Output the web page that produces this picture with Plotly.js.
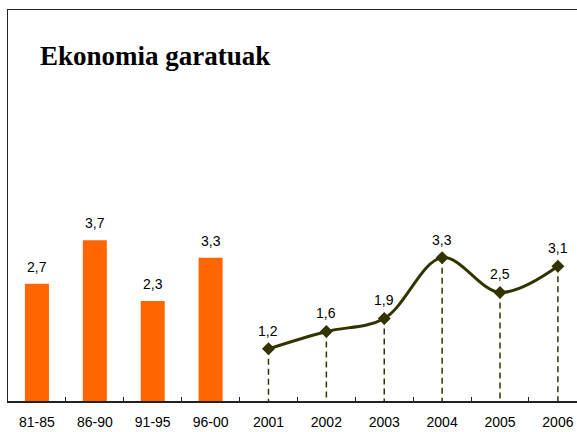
<!DOCTYPE html>
<html>
<head>
<meta charset="utf-8">
<script src="https://cdn.plot.ly/plotly-3.0.1.min.js"></script>
<style>html,body{margin:0;padding:0;background:#fff;}#chart{width:577px;height:432px;}</style>
</head>
<body>
<div id="chart"></div>
<script>
var categories = ['81-85','86-90','91-95','96-00','2001','2002','2003','2004','2005','2006'];
var barCategories = ['81-85','86-90','91-95','96-00'];
var barValues = [2.7, 3.7, 2.3, 3.3];
var lineCategories = ['2001','2002','2003','2004','2005','2006'];
var lineValues = [1.2, 1.6, 1.9, 3.3, 2.5, 3.1];
var titleText = 'Ekonomia garatuak';

function fmt(v){ return v.toFixed(1).replace('.', ','); }
function idx(c){ return categories.indexOf(c); }

var dropX = [], dropY = [];
lineCategories.forEach(function(c, i){ dropX.push(c, c, null); dropY.push(lineValues[i], 0, null); });

var traces = [
  {type:'bar', x:barCategories, y:barValues, width:0.415, marker:{color:'#FF6600'}, hoverinfo:'none'},
  {type:'scatter', mode:'lines', x:dropX, y:dropY, line:{color:'#333300', width:1.5, dash:'6px,4px'}, hoverinfo:'none'},
  {type:'scatter', mode:'lines+markers', x:lineCategories, y:lineValues,
   line:{color:'#333300', width:3, shape:'spline', smoothing:1},
   marker:{symbol:'diamond', size:10, color:'#333300'}, hoverinfo:'none'}
];

var annotations = [];
barCategories.forEach(function(c, i){
  annotations.push({x:idx(c), y:barValues[i], xref:'x', yref:'y', text:fmt(barValues[i]), showarrow:false,
    yanchor:'middle', yshift:17, font:{family:'Liberation Sans, Arial', size:14, color:'#000'}});
});
lineCategories.forEach(function(c, i){
  annotations.push({x:idx(c), y:lineValues[i], xref:'x', yref:'y', text:fmt(lineValues[i]), showarrow:false,
    yanchor:'middle', yshift:18, font:{family:'Liberation Sans, Arial', size:14, color:'#000'}});
});
annotations.push({xref:'paper', yref:'paper', x:0.052, y:0.882, xanchor:'left', yanchor:'middle',
  text:'<b>'+titleText+'</b>', showarrow:false, font:{family:'Liberation Serif, Times New Roman, serif', size:27, color:'#000'}});

var layout = {
  width:577, height:432,
  margin:{l:8, r:0, t:10, b:31, pad:0},
  paper_bgcolor:'#fff', plot_bgcolor:'#fff',
  showlegend:false,
  xaxis:{type:'category', categoryorder:'array', categoryarray:categories, range:[-0.5, 9.33],
    showline:true, linecolor:'#222', linewidth:1.5, mirror:true,
    ticks:'inside', ticklen:4, tickcolor:'#222', tickson:'boundaries',
    showgrid:false, zeroline:false, automargin:false, ticklabelstandoff:8,
    tickfont:{family:'Liberation Sans, Arial', size:14, color:'#000'}, fixedrange:true},
  yaxis:{range:[0,9], showline:true, linecolor:'#222', linewidth:1.5, showticklabels:false, ticks:'',
    showgrid:false, zeroline:false, automargin:false, fixedrange:true},
  annotations:annotations
};

Plotly.newPlot('chart', traces, layout, {staticPlot:true, displayModeBar:false});
</script>
</body>
</html>
